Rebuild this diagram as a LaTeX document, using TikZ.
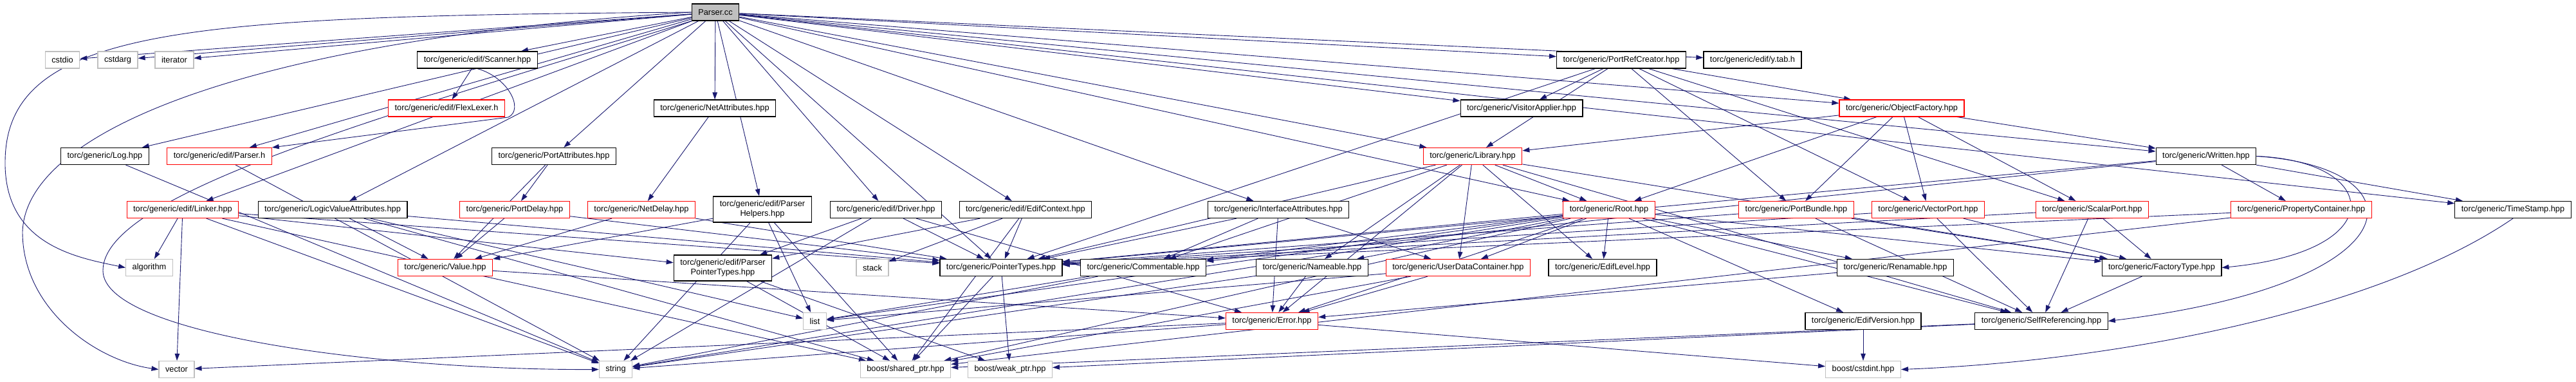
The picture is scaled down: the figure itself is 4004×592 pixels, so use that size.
\documentclass[tikz,border=0pt]{standalone}
\usepackage{fontspec}
\setsansfont{Liberation Sans}
\usetikzlibrary{arrows.meta,backgrounds}

\definecolor{depblue}{HTML}{191970}
\definecolor{sysgray}{HTML}{BFBFBF}

\tikzset{
  hdr/.style={draw=black,fill=white,line width=1.2pt,minimum height=26pt,
    inner xsep=10pt,inner ysep=0pt,align=center,
    font=\fontsize{12.8}{15}\selectfont\sffamily},
  hdrmissing/.style={hdr,draw=red},
  syshdr/.style={hdr,draw=sysgray},
  dep/.style={draw=depblue,line width=0.9pt,-{Triangle[length=11pt,width=7.5pt]}},
}

\begin{document}
\begin{tikzpicture}[x=1pt,y=-1pt]
  \useasboundingbox (0,0) rectangle (4004,592);

  % source file
  \node[hdr,fill=sysgray] (pcc) at (1112,19) {Parser.cc};

  % rank 1
  \node[syshdr] (cstdio)  at (97,93)   {cstdio};
  \node[syshdr] (cstdarg) at (183,93)  {cstdarg};
  \node[syshdr] (iter)    at (271,93)  {iterator};
  \node[hdr]    (scan)    at (742,93)  {torc/generic/edif/Scanner.hpp};
  \node[hdr]    (prc)     at (2520,93) {torc/generic/PortRefCreator.hpp};
  \node[hdr]    (ytab)    at (2724,93) {torc/generic/edif/y.tab.h};

  % rank 2
  \node[hdrmissing] (flex)    at (694,168)  {torc/generic/edif/FlexLexer.h};
  \node[hdr]        (netattr) at (1111,168) {torc/generic/NetAttributes.hpp};
  \node[hdr]        (visit)   at (2365,168) {torc/generic/VisitorApplier.hpp};
  \node[hdrmissing] (objf)    at (2956,168) {torc/generic/ObjectFactory.hpp};

  % rank 3
  \node[hdr]        (log)      at (163,242.5)  {torc/generic/Log.hpp};
  \node[hdrmissing] (parserh)  at (341,242.5)  {torc/generic/edif/Parser.h};
  \node[hdr]        (portattr) at (861,242.5)  {torc/generic/PortAttributes.hpp};
  \node[hdrmissing] (lib)      at (2289,242.5) {torc/generic/Library.hpp};
  \node[hdr]        (written)  at (3429,242.5) {torc/generic/Written.hpp};

  % rank 4
  \node[hdrmissing] (linker)    at (284,325.5)  {torc/generic/edif/Linker.hpp};
  \node[hdr]        (lva)       at (517,325.5)  {torc/generic/LogicValueAttributes.hpp};
  \node[hdrmissing] (portdelay) at (800,325.5)  {torc/generic/PortDelay.hpp};
  \node[hdrmissing] (netdelay)  at (997,325.5)  {torc/generic/NetDelay.hpp};
  \node[hdr,minimum height=40pt] (phelp) at (1185,325) {torc/generic/edif/Parser\\Helpers.hpp};
  \node[hdr]        (driver)    at (1377,325.5) {torc/generic/edif/Driver.hpp};
  \node[hdr]        (edifctx)   at (1594,325.5) {torc/generic/edif/EdifContext.hpp};
  \node[hdr]        (ifattr)    at (1987,325.5) {torc/generic/InterfaceAttributes.hpp};
  \node[hdrmissing] (root)      at (2501,325.5) {torc/generic/Root.hpp};
  \node[hdrmissing] (pbundle)   at (2792,325.5) {torc/generic/PortBundle.hpp};
  \node[hdrmissing] (vport)     at (2997,325.5) {torc/generic/VectorPort.hpp};
  \node[hdrmissing] (sport)     at (3252,325.5) {torc/generic/ScalarPort.hpp};
  \node[hdrmissing] (propc)     at (3577,325.5) {torc/generic/PropertyContainer.hpp};
  \node[hdr]        (tstamp)    at (3906,325.5) {torc/generic/TimeStamp.hpp};

  % rank 5
  \node[syshdr]     (algo)      at (232,415.5)  {algorithm};
  \node[hdrmissing] (value)     at (692,415.5)  {torc/generic/Value.hpp};
  \node[hdr,minimum height=40pt] (pptypes) at (1123.5,416) {torc/generic/edif/Parser\\PointerTypes.hpp};
  \node[syshdr]     (stack)     at (1356,415.5) {stack};
  \node[hdr]        (ptypes)    at (1556,415.5) {torc/generic/PointerTypes.hpp};
  \node[hdr]        (comment)   at (1777,415.5) {torc/generic/Commentable.hpp};
  \node[hdr]        (nameable)  at (2039.5,415.5) {torc/generic/Nameable.hpp};
  \node[hdrmissing] (udc)       at (2266.5,415.5) {torc/generic/UserDataContainer.hpp};
  \node[hdr]        (ediflevel) at (2491,415.5) {torc/generic/EdifLevel.hpp};
  \node[hdr]        (renam)     at (2946,415.5) {torc/generic/Renamable.hpp};
  \node[hdr]        (ftype)     at (3360,415.5) {torc/generic/FactoryType.hpp};

  % rank 6
  \node[syshdr]     (list)    at (1266.5,498.5) {list};
  \node[hdrmissing] (error)   at (1977,498.5)   {torc/generic/Error.hpp};
  \node[hdr]        (edifver) at (2896,498.5)   {torc/generic/EdifVersion.hpp};
  \node[hdr]        (selfref) at (3173,498.5)   {torc/generic/SelfReferencing.hpp};

  % rank 7
  \node[syshdr] (vector)  at (274.5,573.5)  {vector};
  \node[syshdr] (string)  at (957,573.5)    {string};
  \node[syshdr] (sptr)    at (1407.5,573.5) {boost/shared\_ptr.hpp};
  \node[syshdr] (wptr)    at (1570,573.5)   {boost/weak\_ptr.hpp};
  \node[syshdr] (cstdint) at (2896,573.5)   {boost/cstdint.hpp};

  \begin{scope}[on background layer]
    \fill[white] (0,0) rectangle (4004,592);
    % includes of Parser.cc
    \foreach \t in {cstdio,cstdarg,iter,scan,netattr,prc,ytab,visit,objf,log,
        parserh,portattr,lib,written,tstamp,linker,lva,phelp,driver,edifctx,
        ifattr,root,ptypes}
      \draw[dep] (pcc) -- (\t);
    \draw[dep] (pcc.west) .. controls (300,25) and (10,40) .. (8,250)
      .. controls (6,380) and (120,400) .. (algo.west);
    \draw[dep] (pcc.west) .. controls (400,60) and (40,200) .. (35,360)
      .. controls (35,480) and (150,560) .. (vector.west);
    \draw[dep] (pcc.south west) .. controls (600,180) and (160,300) .. (160,420)
      .. controls (160,520) and (600,575) .. (string.west);
    % second level
    \draw[dep] (scan) -- (flex);
    \draw[dep] (scan.south) .. controls (790,120) and (815,170) .. (790,182)
      -- (parserh.north east);
    \foreach \t in {visit,lib,objf,pbundle,vport,sport,ptypes} \draw[dep] (prc) -- (\t);
    \foreach \t in {lib,written,root,pbundle,vport,sport} \draw[dep] (objf) -- (\t);
    \foreach \t in {portdelay,value} \draw[dep] (portattr) -- (\t);
    \draw[dep] (netattr) -- (netdelay);
    \draw[dep] (log) -- (string);
    \draw[dep] (parserh) -- (string);
    \foreach \t in {root,ptypes,comment,nameable,udc,ediflevel,error,ftype,selfref}
      \draw[dep] (lib) -- (\t);
    \foreach \t in {tstamp,propc,ptypes,comment} \draw[dep] (written) -- (\t);
    \draw[dep] (written.east) .. controls (3700,250) and (3720,390) .. (ftype.east);
    \draw[dep] (written.east) .. controls (3770,260) and (3760,440) .. (selfref.east);
    \foreach \t in {algo,vector,string,sptr,pptypes,ptypes} \draw[dep] (linker) -- (\t);
    \foreach \t in {value,ptypes,list,sptr} \draw[dep] (lva) -- (\t);
    \foreach \t in {value,ptypes} \draw[dep] (portdelay) -- (\t);
    \foreach \t in {value,ptypes} \draw[dep] (netdelay) -- (\t);
    \foreach \t in {value,string,sptr,list} \draw[dep] (phelp) -- (\t);
    \foreach \t in {pptypes,ptypes,string,error} \draw[dep] (driver) -- (\t);
    \foreach \t in {pptypes,ptypes,stack,sptr} \draw[dep] (edifctx) -- (\t);
    \foreach \t in {comment,udc,ptypes,error} \draw[dep] (ifattr) -- (\t);
    \foreach \t in {nameable,comment,udc,ediflevel,edifver,renam,ftype,selfref,
        error,list,ptypes,sptr,string}
      \draw[dep] (root) -- (\t);
    \foreach \t in {ftype,selfref,ptypes} \draw[dep] (pbundle) -- (\t);
    \foreach \t in {ftype,selfref,ptypes} \draw[dep] (vport) -- (\t);
    \foreach \t in {ftype,selfref,ptypes} \draw[dep] (sport) -- (\t);
    \foreach \t in {ptypes,sptr} \draw[dep] (propc) -- (\t);
    \draw[dep] (tstamp.south) .. controls (3700,480) and (3300,560) .. (cstdint.east);
    % lower levels
    \draw[dep] (value) -- (error);
    \foreach \t in {sptr,wptr} \draw[dep] (pptypes) -- (\t);
    \foreach \t in {sptr,wptr} \draw[dep] (ptypes) -- (\t);
    \foreach \t in {list,string} \draw[dep] (comment) -- (\t);
    \foreach \t in {error,string} \draw[dep] (nameable) -- (\t);
    \foreach \t in {error,list,sptr} \draw[dep] (udc) -- (\t);
    \draw[dep] (renam) -- (error);
    \draw[dep] (ftype) -- (selfref);
    \draw[dep] (edifver) -- (cstdint);
    \foreach \t in {sptr,wptr} \draw[dep] (selfref) -- (\t);
    \foreach \t in {vector,string,cstdint} \draw[dep] (error) -- (\t);
  \end{scope}
\end{tikzpicture}
\end{document}
